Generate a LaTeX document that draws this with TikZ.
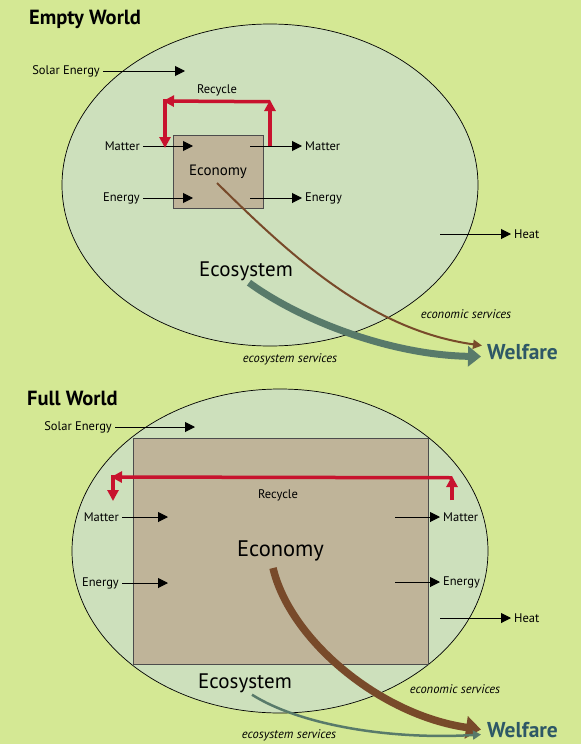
\documentclass[tikz,border=0pt]{standalone}
\usepackage{fontspec}
\setmainfont{PT Sans}
\usetikzlibrary{arrows.meta}
\definecolor{worldbg}{RGB}{212,232,148}
\definecolor{ecofill}{RGB}{205,224,188}
\definecolor{econfill}{RGB}{191,180,153}
\definecolor{recyclered}{RGB}{200,18,46}
\definecolor{econbrown}{RGB}{120,74,42}
\definecolor{ecoteal}{RGB}{88,122,106}
\definecolor{welfareblue}{RGB}{46,88,102}
\begin{document}
\begin{tikzpicture}
[x=1pt,y=-1pt,
 lbl/.style={font=\fontsize{12.5}{14}\selectfont,inner sep=3pt},
 svc/.style={font=\fontsize{12.5}{14}\selectfont\itshape,inner sep=1pt},
 title/.style={font=\fontsize{20.5}{23}\selectfont\bfseries,anchor=west,inner sep=0pt},
 big/.style={font=\fontsize{21}{24}\selectfont,inner sep=2pt},
 welfare/.style={font=\fontsize{21.5}{24}\selectfont\bfseries,text=welfareblue,anchor=base west,inner sep=0pt},
 econbox/.style={draw=black!70,line width=0.8pt,fill=econfill,minimum width=#1},
 flow/.style={line width=1pt,-{Triangle[length=10pt,width=10pt]}},
 recycle/.style={draw=recyclered,line width=3.5pt,-{Triangle[length=11pt,width=11pt]}}]
\fill[worldbg] (0,0) rectangle (581,744);
%% the two worlds
\draw[fill=ecofill,line width=0.7pt] (270,185) ellipse [x radius=208,y radius=161];
\draw[fill=ecofill,line width=0.7pt] (280,551) ellipse [x radius=208,y radius=162];
\node[title] (empty) at (29,19) {Empty World};
\node[title] (full) at (27,398) {Full World};
\node[econbox=90pt,minimum height=73pt,font=\fontsize{15}{17}\selectfont] (econ1) at (218,171.5) {Economy};
\node[econbox=295pt,minimum height=226pt,font=\fontsize{22.5}{25}\selectfont] (econ2) at (280.5,551) {Economy};
\node[big] (ecosys1) at (246,271) {Ecosystem};
\node[big] (ecosys2) at (245,683) {Ecosystem};
\node[welfare] (welfare1) at (487,359) {Welfare};
\node[welfare] (welfare2) at (487,737) {Welfare};
%% flows into the economy
\foreach \nm/\txt/\x/\y/\xe in {solar1/Solar Energy/103/71/185, matin1/Matter/143/146/193,
  enin1/Energy/143/198/193, solar2/Solar Energy/115/427/195, matin2/Matter/122/517/168,
  enin2/Energy/122/583/168}
{
  \node[lbl,anchor=east] (\nm) at (\x,\y) {\txt};
  \coordinate (\nm-tip) at (\xe,\y);
  \draw[flow] (\nm) -- (\nm-tip);
}
%% flows out of the economy
\foreach \nm/\txt/\xs/\x/\y in {matout1/Matter/250/302/146, enout1/Energy/250/302/198,
  heat1/Heat/440/511/234, matout2/Matter/395/440/517, enout2/Energy/395/440/582,
  heat2/Heat/440/511/618}
{
  \node[lbl,anchor=west] (\nm) at (\x,\y) {\txt};
  \coordinate (\nm-tail) at (\xs,\y);
  \draw[flow] (\nm-tail) -- (\nm);
}
%% recycle loops
\coordinate (rec1a) at (270,146); \coordinate (rec1b) at (270,100);
\coordinate (rec1c) at (165,101); \coordinate (rec1d) at (165,148);
\coordinate (rec2a) at (452,500); \coordinate (rec2b) at (452,476);
\coordinate (rec2c) at (113,477); \coordinate (rec2d) at (113,501);
\foreach \n in {1,2} {
  \draw[recycle] (rec\n a) -- (rec\n b);
  \draw[recycle] ([yshift=-1.75pt]rec\n b) -- ([xshift=-2pt]rec\n c);
  \draw[recycle] ([yshift=1.75pt]rec\n c) -- (rec\n d);
}
\node[lbl] (recycle1) at (217,90) {Recycle};
\node[lbl] (recycle2) at (278,495) {Recycle};
%% services to welfare
\coordinate (econsrc1) at (217,183);
\coordinate (econsrc2) at (273,568);
\draw[econbrown,line width=2pt,-{Triangle[length=9pt,width=9pt]}]
  (econsrc1) .. controls (290,255) and (370,330) .. ([xshift=-5pt,yshift=6pt]welfare1.west);
\draw[ecoteal,line width=7pt,-{Triangle[length=13pt,width=20pt]}]
  ([xshift=3pt]ecosys1.south) .. controls (300,320) and (390,355) .. ([xshift=-6pt,yshift=-5pt]welfare1.west);
\draw[econbrown,line width=7.5pt,-{Triangle[length=15pt,width=22pt]}]
  (econsrc2) .. controls (290,640) and (380,715) .. ([xshift=-6pt]welfare2.west);
\draw[ecoteal,line width=2.5pt,-{Triangle[length=8pt,width=9pt]}]
  ([xshift=7pt]ecosys2.south) .. controls (300,725) and (390,740) .. ([xshift=-6pt,yshift=-5pt]welfare2.west);
\node[svc] (econsvc1) at (466,314) {economic services};
\node[svc] (ecosvc1) at (290,359) {ecosystem services};
\node[svc] (econsvc2) at (455,689) {economic services};
\node[svc] (ecosvc2) at (289,735) {ecosystem services};
\end{tikzpicture}
\end{document}
